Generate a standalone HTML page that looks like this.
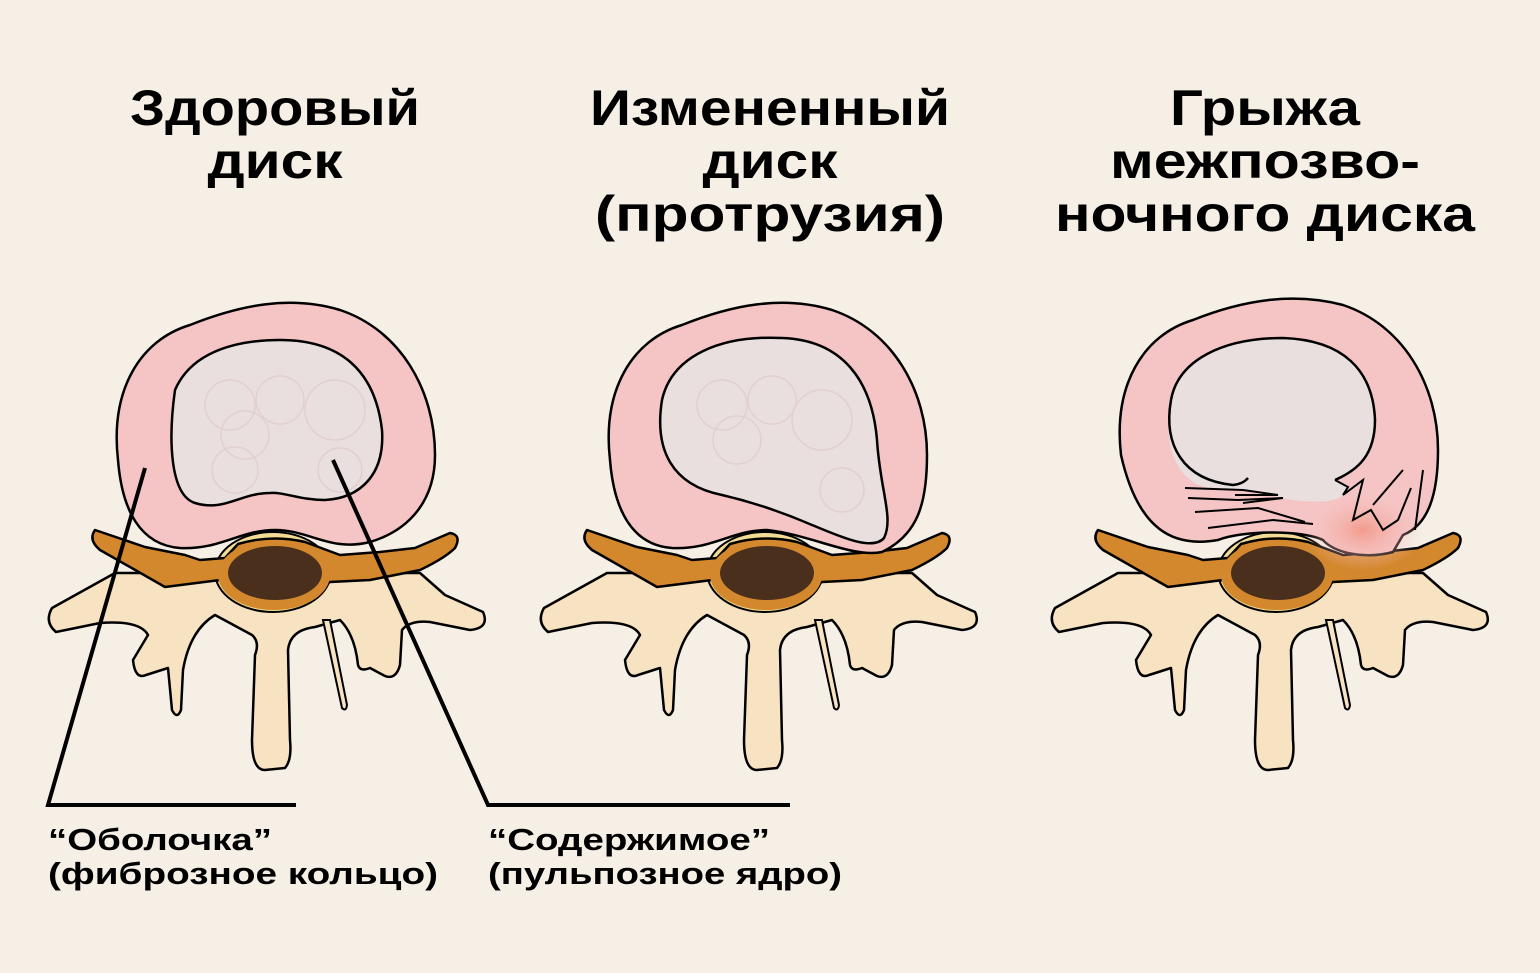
<!DOCTYPE html>
<html><head><meta charset="utf-8"><style>
html,body{margin:0;padding:0;background:#f5efe6;}
svg{display:block}
text{font-family:"Liberation Sans",sans-serif;fill:#000}
.t{font-size:50px;font-weight:bold}
.l{font-size:31px;font-weight:bold}
</style></head><body>
<svg width="1540" height="973" viewBox="0 0 1540 973" xmlns="http://www.w3.org/2000/svg">
<rect width="1540" height="973" fill="#f5efe6"/>
<defs>
<g id="bone">
<path d="M75 283 L12 318 Q4 332 16 342 L60 333 Q100 330 108 345 L93 370 Q95 390 106 385 L128 378 L132 420 Q137 430 141 420 L143 380 Q150 340 175 325 L212 345 Q220 352 215 365 L212 450 Q212 480 225 480 L245 478 Q252 470 250 450 L248 360 Q250 340 275 337 L300 330 Q315 345 318 375 Q320 382 330 378 L345 386 Q356 390 360 375 L362 340 Q370 330 390 332 L430 340 Q450 338 443 322 L405 305 L380 283 Z" fill="#f7e2c2" stroke="#000" stroke-width="2.5" stroke-linejoin="round"/>
<path d="M283 330 L302 418 Q306 422 307 415 L290 330 Z" fill="#f7e2c2" stroke="#000" stroke-width="2"/>
<ellipse cx="233" cy="282" rx="58" ry="40" fill="#f2dc94" stroke="#000" stroke-width="2"/>
<path d="M55 240 Q48 250 60 260 L125 297 L180 290 Q200 306 232 318 Q265 306 290 292 L330 290 L380 280 Q405 268 415 258 Q422 245 410 243 L375 258 L340 262 L300 265 L265 252 Q232 244 198 254 L185 268 L160 270 L145 265 L105 257 Z" fill="#d4882e" stroke="#000" stroke-width="2.5" stroke-linejoin="round"/>
<ellipse cx="234" cy="285" rx="56" ry="35" fill="#d4882e"/>
<ellipse cx="235" cy="283" rx="47" ry="27" fill="#4a2f1c"/>
</g>
<radialGradient id="hot" cx="0.5" cy="0.5" r="0.5"><stop offset="0" stop-color="#f39a8a"/><stop offset="1" stop-color="#f5c5c5" stop-opacity="0"/></radialGradient>
</defs>

<g transform="translate(40,290)">
<use href="#bone"/>
<path d="M78 170 C70 100 100 50 150 35 C200 15 250 5 300 20 C360 40 395 100 395 165 C395 210 370 240 330 252 C290 262 270 240 235 240 C200 240 180 260 140 258 C100 255 82 220 78 170 Z" fill="#f5c5c5" stroke="#000" stroke-width="2.5"/>
<path d="M135 100 C150 65 190 50 240 50 C300 50 335 80 342 140 C345 185 320 208 285 210 C260 210 245 202 230 203 C200 203 185 222 155 213 C130 205 128 150 135 100 Z" fill="#e9dfdf" stroke="#000" stroke-width="2.5"/>
<g fill="none" stroke="#e2d0d0" stroke-width="1.5"><circle cx="190" cy="115" r="25"/><circle cx="240" cy="110" r="24"/><circle cx="205" cy="145" r="24"/><circle cx="195" cy="180" r="23"/><circle cx="295" cy="120" r="30"/><circle cx="300" cy="180" r="22"/></g>
</g>

<g transform="translate(532,290)">
<use href="#bone"/>
<path d="M78 170 C70 100 100 50 150 35 C200 15 250 5 300 20 C360 40 395 100 395 165 C395 215 385 245 350 262 C320 268 280 245 235 240 C200 240 180 260 140 258 C100 255 82 220 78 170 Z" fill="#f5c5c5" stroke="#000" stroke-width="2.5"/>
<path d="M130 110 C140 65 190 45 250 48 C310 50 340 90 345 150 C348 200 362 228 352 248 C340 262 305 245 280 235 C250 222 220 212 190 205 C140 195 122 160 130 110 Z" fill="#e9dfdf" stroke="#000" stroke-width="2.5"/>
<g fill="none" stroke="#e2d0d0" stroke-width="1.5"><circle cx="190" cy="115" r="25"/><circle cx="240" cy="110" r="24"/><circle cx="205" cy="150" r="24"/><circle cx="290" cy="130" r="30"/><circle cx="310" cy="200" r="22"/></g>
</g>

<g transform="translate(1043,290)">
<use href="#bone"/>
<path d="M78 165 C70 95 100 45 150 30 C200 10 250 2 300 15 C360 35 395 95 395 160 C395 205 385 235 360 245 L350 262 C320 270 290 262 280 250 C260 240 200 240 175 250 C130 258 95 240 78 165 Z" fill="#f5c5c5" stroke="#000" stroke-width="2.5"/>
<ellipse cx="320" cy="240" rx="60" ry="40" fill="url(#hot)"/>
<path d="M128 110 C135 70 180 48 240 48 C300 50 330 80 332 130 C332 165 315 180 292 190 L305 195 L300 205 Q290 215 250 210 L200 200 L165 198 C130 190 120 150 128 110 Z" fill="#e9dfdf"/>
<path d="M128 110 C135 70 180 48 240 48 C300 50 330 80 332 130 C332 165 315 180 292 190" fill="none" stroke="#000" stroke-width="2.5"/>
<path d="M128 110 C120 155 140 190 190 195 Q200 194 205 188" fill="none" stroke="#000" stroke-width="2.5"/>
<g fill="none" stroke="#000" stroke-width="2">
<path d="M142 198 L200 200 L235 205 L192 205"/><path d="M145 208 L195 210 L240 208 L200 213"/><path d="M152 222 L215 218 L262 232"/><path d="M165 238 L230 230 L270 234"/>
<path d="M292 190 L305 197 L300 205 L320 190 L310 230 L328 220 L340 240 L355 230 L368 198"/><path d="M330 215 L360 180"/><path d="M380 180 L372 240"/>
</g>
</g>

<g fill="none" stroke="#000" stroke-width="4">
<polyline points="145,468 48,805 296,805"/>
<polyline points="333,460 488,805 790,805"/>
</g>

<g text-anchor="middle">
<text class="t" x="275" y="125" textLength="290" lengthAdjust="spacingAndGlyphs">Здоровый</text>
<text class="t" x="275" y="178" textLength="135" lengthAdjust="spacingAndGlyphs">диск</text>
<text class="t" x="770" y="125" textLength="360" lengthAdjust="spacingAndGlyphs">Измененный</text>
<text class="t" x="770" y="178" textLength="135" lengthAdjust="spacingAndGlyphs">диск</text>
<text class="t" x="770" y="231" textLength="350" lengthAdjust="spacingAndGlyphs">(протрузия)</text>
<text class="t" x="1265" y="125" textLength="190" lengthAdjust="spacingAndGlyphs">Грыжа</text>
<text class="t" x="1265" y="178" textLength="310" lengthAdjust="spacingAndGlyphs">межпозво-</text>
<text class="t" x="1265" y="231" textLength="420" lengthAdjust="spacingAndGlyphs">ночного диска</text>
</g>
<text class="l" x="48" y="850" textLength="224" lengthAdjust="spacingAndGlyphs">“Оболочка”</text>
<text class="l" x="48" y="884" textLength="390" lengthAdjust="spacingAndGlyphs">(фиброзное кольцо)</text>
<text class="l" x="488" y="850" textLength="282" lengthAdjust="spacingAndGlyphs">“Содержимое”</text>
<text class="l" x="488" y="884" textLength="354" lengthAdjust="spacingAndGlyphs">(пульпозное ядро)</text>
</svg>
</body></html>
